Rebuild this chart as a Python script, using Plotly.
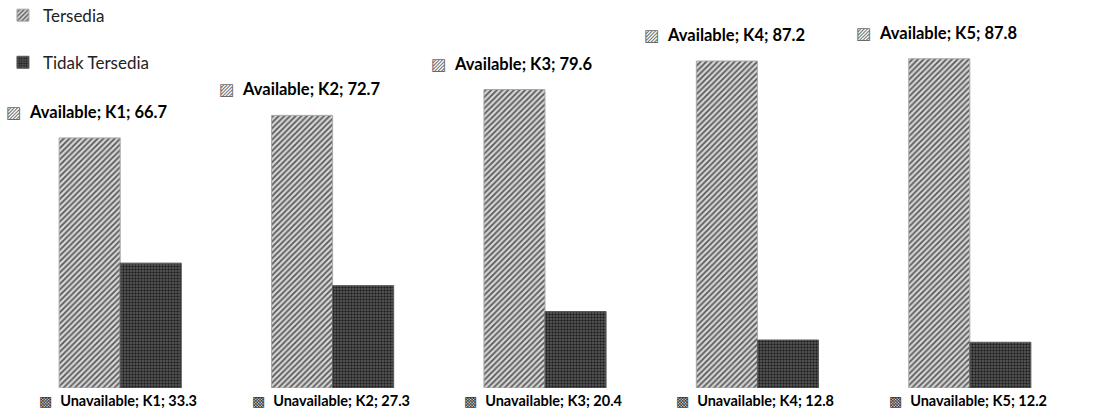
import plotly.graph_objects as go

categories = ["K1", "K2", "K3", "K4", "K5"]
available = [66.7, 72.7, 79.6, 87.2, 87.8]
unavailable = [33.3, 27.3, 20.4, 12.8, 12.2]
legend_names = ["Tersedia", "Tidak Tersedia"]
label_names = ["Available", "Unavailable"]

FONT = "Lato, 'DejaVu Sans', sans-serif"

fig = go.Figure()
fig.add_trace(go.Bar(
    x=categories, y=available, name=legend_names[0], legendgroup="a",
    marker=dict(color="#c8c8c8",
                line=dict(color="#a8a8a8", width=1),
                pattern=dict(shape="/", fgcolor="#555555", bgcolor="#d4d4d4",
                             size=4, solidity=0.4, fillmode="replace")),
))
fig.add_trace(go.Bar(
    x=categories, y=unavailable, name=legend_names[1], legendgroup="b",
    marker=dict(color="#3a3a3a",
                line=dict(color="#5a5a5a", width=1),
                pattern=dict(shape=".", fgcolor="#202020", bgcolor="#5e5e5e",
                             size=3, solidity=0.5, fillmode="replace")),
))

annotations = []
for c, v in zip(categories, available):
    annotations.append(dict(
        x=c, y=v, xref="x", yref="y", xshift=-33, yshift=26,
        text="<span style='color:#6a6a6a'>▨</span>  <b>%s; %s; %.1f</b>" % (label_names[0], c, v),
        showarrow=False, font=dict(family=FONT, size=16.5, color="#000000"),
        xanchor="center", yanchor="middle"))
for c, v in zip(categories, unavailable):
    annotations.append(dict(
        x=c, y=0, xref="x", yref="y", xshift=-2, yshift=-12,
        text="<span style='color:#3a3a3a'>▩</span>  <b>%s; %s; %.1f</b>" % (label_names[1], c, v),
        showarrow=False, font=dict(family=FONT, size=14.5, color="#000000"),
        xanchor="center", yanchor="middle"))

fig.update_layout(
    width=1101, height=411,
    margin=dict(l=14, r=25, t=13, b=23, autoexpand=False),
    paper_bgcolor="white", plot_bgcolor="white",
    barmode="group", bargap=0.425, bargroupgap=0,
    font=dict(family=FONT, size=14, color="#000000"),
    showlegend=True,
    legend=dict(xref="paper", yref="paper", x=-0.0104, y=1.041,
                xanchor="left", yanchor="top", tracegroupgap=22,
                font=dict(family=FONT, size=17, color="#222222"),
                bgcolor="rgba(0,0,0,0)"),
    xaxis=dict(range=[-0.5, 4.5], showticklabels=False, showgrid=False,
               zeroline=False, showline=False, ticks=""),
    yaxis=dict(range=[0, 100], showticklabels=False, showgrid=False,
               zeroline=False, showline=False, ticks=""),
    annotations=annotations,
)

fig.write_html("out.html")
